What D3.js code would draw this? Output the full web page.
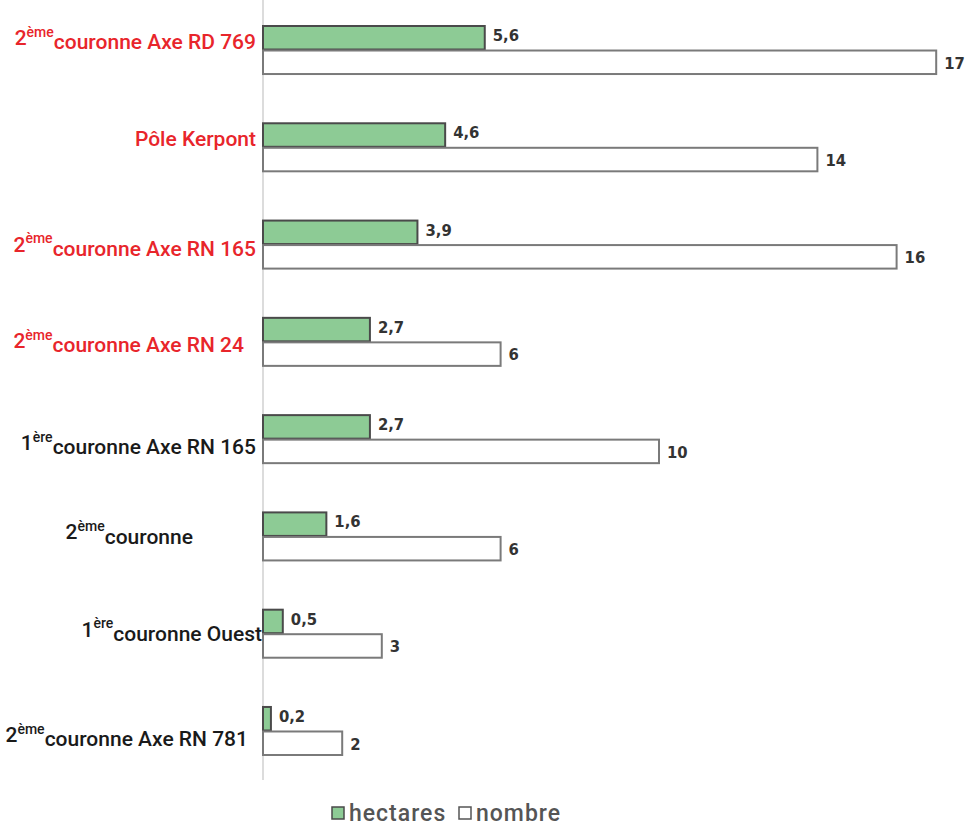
<!DOCTYPE html>
<html><head><meta charset="utf-8">
<script src="https://cdn.jsdelivr.net/npm/d3@7"></script>
<style>body{margin:0;background:#fff}svg{display:block}</style>
</head><body>
<svg id="c" width="968" height="828"></svg>
<script>
// ---- data ----
const categories = [
  "2ème couronne Axe RD 769",
  "Pôle Kerpont",
  "2ème couronne Axe RN 165",
  "2ème couronne Axe RN 24",
  "1ère couronne Axe RN 165",
  "2ème couronne",
  "1ère couronne Ouest",
  "2ème couronne Axe RN 781"
];
const labelPrefix = ["2","","2","2","1","2","1","2"];
const labelSup    = ["ème","","ème","ème","ère","ème","ère","ème"];
const labelMain   = ["couronne Axe RD 769","Pôle Kerpont","couronne Axe RN 165","couronne Axe RN 24","couronne Axe RN 165","couronne","couronne Ouest","couronne Axe RN 781"];
const highlighted = [true,true,true,true,false,false,false,false];
const hectares = [5.6, 4.6, 3.9, 2.7, 2.7, 1.6, 0.5, 0.2];
const nombre   = [17, 14, 16, 6, 10, 6, 3, 2];
const seriesNames = ["hectares","nombre"];
// label layout tweaks (x end, vertical offset from group centre)
const labelX  = [256, 256, 256, 244, 256, 193, 262, 248];
const labelDy = [-12, -8, 0, -1, 4, -4, -4, 4];

const svg = d3.select("#c");
const x = d3.scaleLinear().domain([0, 17]).range([263, 263 + 17*39.6]);
const y = d3.scaleBand().domain(categories).range([25, 755]).paddingInner(0.496).paddingOuter(0);
const sub = d3.scaleBand().domain(seriesNames).range([0, y.bandwidth()]);
const fills = {hectares: "#8dcb95", nombre: "#ffffff"};
const strokes = {hectares: "#4a4a4a", nombre: "#7a7a7a"};

// axis line
svg.append("line").attr("x1", x(0)).attr("x2", x(0)).attr("y1", 0).attr("y2", 780)
  .attr("stroke", "#dcdcdc").attr("stroke-width", 2);

const rows = categories.map((c, i) => ({c, i, vals: [hectares[i], nombre[i]]}));
const g = svg.selectAll("g.row").data(rows).join("g").attr("class","row")
  .attr("transform", d => `translate(0,${y(d.c)})`);

g.selectAll("rect").data(d => d.vals.map((v, k) => ({v, s: seriesNames[k]}))).join("rect")
  .attr("x", x(0)).attr("y", d => sub(d.s) + 1)
  .attr("width", d => x(d.v) - x(0)).attr("height", sub.bandwidth() - 1)
  .attr("fill", d => fills[d.s]).attr("stroke", d => strokes[d.s]).attr("stroke-width", 2);

g.selectAll("text.val").data(d => d.vals.map((v, k) => ({v, s: seriesNames[k]}))).join("text")
  .attr("class","val")
  .attr("x", d => x(d.v) + 8).attr("y", d => sub(d.s) + sub.bandwidth()/2 + (d.s === "hectares" ? -2 : 1))
  .attr("dy", "0.35em")
  .attr("font-family", "DejaVu Sans Condensed, DejaVu Sans").attr("font-weight", "bold")
  .attr("font-size", 16.5).attr("fill", "#333")
  .text(d => d3.format(".1~f")(d.v).replace(".", ","));

// category labels
const lab = svg.selectAll("text.lab").data(rows).join("text").attr("class","lab")
  .attr("x", d => labelX[d.i])
  .attr("y", d => y(d.c) + y.bandwidth()/2 + labelDy[d.i])
  .attr("dy", "0.36em")
  .attr("text-anchor", "end")
  .attr("font-family", "Roboto, sans-serif").attr("font-size", 21).attr("font-weight", 500)
  .attr("fill", d => highlighted[d.i] ? "#e8252b" : "#1a1a1a");
lab.each(function(d) {
  const t = d3.select(this);
  if (labelPrefix[d.i]) {
    t.append("tspan").text(labelPrefix[d.i]);
    t.append("tspan").attr("font-size", 14).attr("dy", "-0.6em").text(labelSup[d.i]);
    t.append("tspan").attr("dy", "0.6em").text(labelMain[d.i]);
  } else {
    t.append("tspan").text(labelMain[d.i]);
  }
});

// legend
const leg = svg.append("g").attr("transform", "translate(331,806)");
const legX = [0, 127];
seriesNames.forEach((s, k) => {
  leg.append("rect").attr("x", legX[k] + 1).attr("y", 1).attr("width", 12).attr("height", 12)
    .attr("fill", fills[s]).attr("stroke", k === 0 ? "#4a4a4a" : "#555").attr("stroke-width", 1.5);
  leg.append("text").attr("x", legX[k] + 18).attr("y", 7).attr("dy", "0.36em")
    .attr("font-family", "Roboto, sans-serif").attr("font-size", 23).attr("font-weight", 500)
    .attr("letter-spacing", 1.0).attr("fill", "#555")
    .text(s);
});
</script>
</body></html>
